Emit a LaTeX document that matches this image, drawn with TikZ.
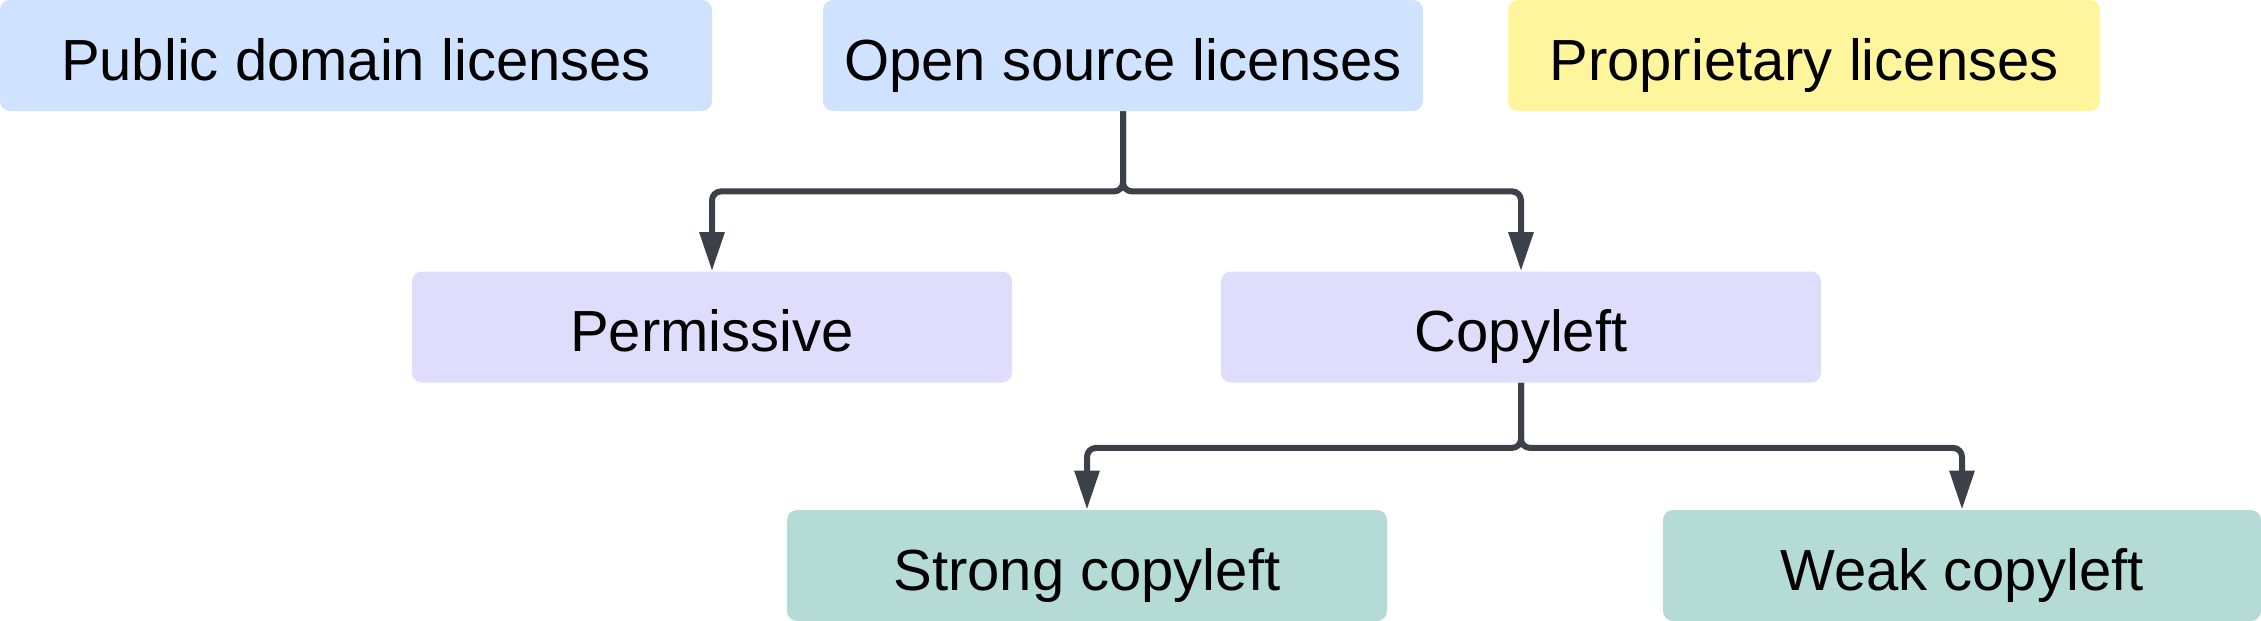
\documentclass[tikz,border=0pt]{standalone}
\usepackage{fontspec}
\setmainfont{Liberation Sans}
\usepackage{xcolor}
\usetikzlibrary{arrows.meta,positioning}

\definecolor{bluebox}{HTML}{CFE2FF}
\definecolor{lilabox}{HTML}{DEDEFC}
\definecolor{yellbox}{HTML}{FFF59D}
\definecolor{tealbox}{HTML}{B4DBD6}
\definecolor{linegray}{HTML}{3B4049}

\tikzset{
  lic/.style={rectangle, rounded corners=5pt, inner sep=0pt, minimum height=55.5pt,
    text=black, font=\fontsize{29}{35}\selectfont, text height=24.8pt, text depth=0pt},
  conn/.style={draw=linegray, line width=3pt, rounded corners=4.5pt,
    -{Triangle[length=19.5pt,width=12pt]}, fill=none}
}

\begin{document}
\begin{tikzpicture}[x=0.5pt,y=-0.5pt]
\useasboundingbox (0,0) rectangle (2261,621);

% horni rada
\node[lic, fill=bluebox, minimum width=356pt] (pd) at (356,55.5) {Public domain licenses};
\node[lic, fill=bluebox, minimum width=300pt] (os) at (1123,55.5) {Open source licenses};
\node[lic, fill=yellbox, minimum width=296pt] (prop) at (1804,55.5) {Proprietary licenses};

% open source
\node[lic, fill=lilabox, minimum width=300pt] (perm) at (712,327) {Permissive};
\node[lic, fill=lilabox, minimum width=300pt] (copy) at (1521,327) {Copyleft};

% copyleft
\node[lic, fill=tealbox, minimum width=300pt] (strong) at (1087,565.5) {Strong copyleft};
\node[lic, fill=tealbox, minimum width=299pt] (weak) at (1962,565.5) {Weak copyleft};

%% sipky
\draw[conn] (os.south) -- ++(0,80) -| (perm.north);
\draw[conn] (os.south) -- ++(0,80) -| (copy.north);
\draw[conn] (copy.south) -- ++(0,65) -| (strong.north);
\draw[conn] (copy.south) -- ++(0,65) -| (weak.north);

\end{tikzpicture}
\end{document}
